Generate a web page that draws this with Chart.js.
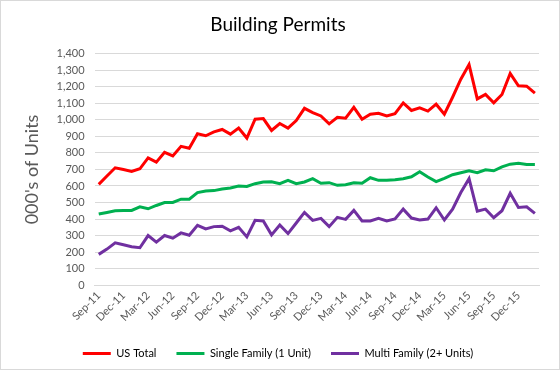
<!DOCTYPE html>
<html>
<head>
<meta charset="utf-8">
<script src="https://cdn.jsdelivr.net/npm/chart.js@4/dist/chart.umd.min.js"></script>
<style>
  html, body { margin: 0; padding: 0; background: #fff; }
  #wrap { width: 558px; height: 368px; border: 1px solid #d9d9d9; }
</style>
</head>
<body>
<div id="wrap"><canvas id="permits" width="558" height="368"></canvas></div>
<script>
// monthly, Sep-11 .. Feb-16 (thousands of units, SAAR)
const months = [
    'Sep-11', 'Oct-11', 'Nov-11', 'Dec-11', 'Jan-12', 'Feb-12', 'Mar-12', 'Apr-12', 'May-12', 'Jun-12',
    'Jul-12', 'Aug-12', 'Sep-12', 'Oct-12', 'Nov-12', 'Dec-12', 'Jan-13', 'Feb-13', 'Mar-13', 'Apr-13',
    'May-13', 'Jun-13', 'Jul-13', 'Aug-13', 'Sep-13', 'Oct-13', 'Nov-13', 'Dec-13', 'Jan-14', 'Feb-14',
    'Mar-14', 'Apr-14', 'May-14', 'Jun-14', 'Jul-14', 'Aug-14', 'Sep-14', 'Oct-14', 'Nov-14', 'Dec-14',
    'Jan-15', 'Feb-15', 'Mar-15', 'Apr-15', 'May-15', 'Jun-15', 'Jul-15', 'Aug-15', 'Sep-15', 'Oct-15',
    'Nov-15', 'Dec-15', 'Jan-16', 'Feb-16'
];

const usTotal = [
    610, 660, 710, 700, 688, 704, 770, 744, 804, 782,
    840, 828, 916, 904, 928, 942, 914, 950, 890, 1004,
    1008, 936, 978, 950, 996, 1070, 1044, 1024, 976, 1016,
    1010, 1076, 1004, 1034, 1040, 1024, 1038, 1103, 1057, 1073,
    1053, 1095, 1034, 1137, 1246, 1335, 1127, 1154, 1103, 1154,
    1281, 1206, 1204, 1162
];

const singleFamily = [
    430, 440, 450, 452, 452, 474, 462, 482, 500, 500,
    520, 520, 560, 570, 572, 582, 588, 600, 597, 614,
    624, 626, 614, 634, 614, 624, 644, 616, 620, 604,
    608, 620, 616, 650, 634, 634, 638, 644, 656, 686,
    654, 626, 646, 668, 680, 692, 680, 698, 692, 716,
    732, 738, 730, 730
];

const multiFamily = [
    186, 218, 256, 244, 232, 226, 300, 260, 300, 284,
    316, 302, 362, 340, 354, 356, 328, 350, 292, 392,
    388, 304, 364, 312, 376, 440, 392, 404, 354, 410,
    398, 452, 388, 388, 404, 388, 400, 460, 406, 394,
    400, 468, 394, 460, 560, 644, 448, 460, 408, 450,
    556, 470, 474, 434
];

const axisGray = '#595959';
const gridGray = '#d9d9d9';
const fontFamily = 'Lato, "Open Sans", sans-serif';

function series(label, data, color) {
    return {
        label: label,
        data: data,
        borderColor: color,
        backgroundColor: color,
        borderWidth: 3,
        pointRadius: 0,
        pointHoverRadius: 0,
        tension: 0,
        fill: false
    };
}

new Chart(document.getElementById('permits'), {
    type: 'line',
    data: {
        labels: months,
        datasets: [
            series('US Total', usTotal, '#ff0000'),
            series('Single Family (1 Unit)', singleFamily, '#00b050'),
            series('Multi Family (2+ Units)', multiFamily, '#7030a0')
        ]
    },
    options: {
        responsive: false,
        animation: false,
        layout: { padding: { left: 16, right: 20, top: 6, bottom: 0 } },
        plugins: {
            title: {
                display: true,
                text: 'Building Permits',
                color: '#000',
                font: { family: fontFamily, size: 19, weight: 'normal' },
                padding: { top: 6, bottom: 18 }
            },
            legend: {
                position: 'bottom',
                labels: {
                    usePointStyle: true,
                    pointStyle: 'line',
                    pointStyleWidth: 28,
                    color: '#000',
                    font: { family: fontFamily, size: 11 },
                    padding: 20,
                    boxHeight: 8
                }
            },
            tooltip: { enabled: false }
        },
        scales: {
            x: {
                offset: true,
                grid: { display: false, drawTicks: false, tickLength: 0 },
                border: { color: gridGray },
                ticks: {
                    autoSkip: false,
                    maxRotation: 45,
                    minRotation: 45,
                    padding: 4,
                    color: axisGray,
                    font: { family: fontFamily, size: 11 },
                    callback: function (value, index) {
                        return index % 3 === 0 ? months[index] : '';
                    }
                }
            },
            y: {
                min: 0,
                max: 1400,
                grid: { color: gridGray, drawTicks: false },
                border: { display: false },
                ticks: {
                    autoSkip: false,
                    stepSize: 100,
                    padding: 10,
                    color: axisGray,
                    font: { family: fontFamily, size: 11 }
                },
                title: {
                    display: true,
                    text: "000's of Units",
                    color: axisGray,
                    font: { family: fontFamily, size: 18 },
                    padding: { bottom: 4 }
                }
            }
        }
    }
});
</script>
</body>
</html>
